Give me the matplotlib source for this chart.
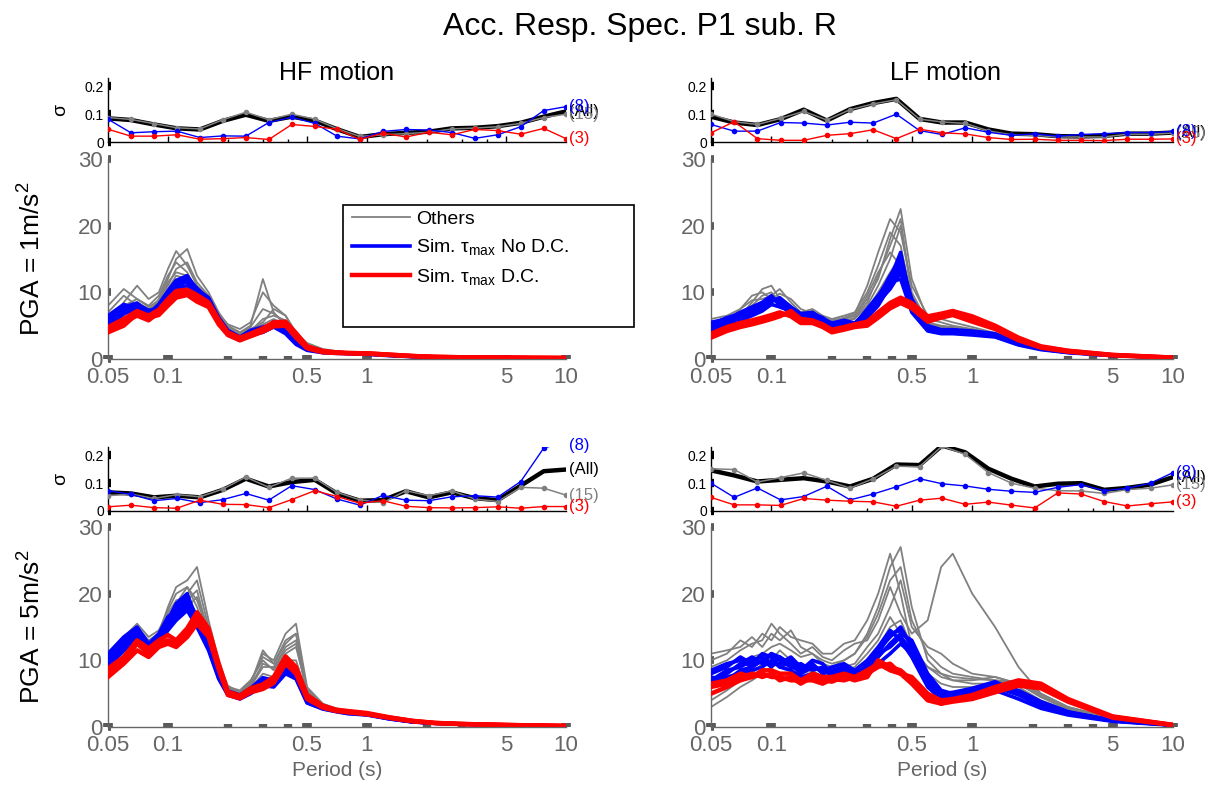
import matplotlib
matplotlib.use("Agg")
import matplotlib.pyplot as plt
from matplotlib.patches import Rectangle
from matplotlib.ticker import NullFormatter

plt.rcParams['font.family'] = ['Liberation Sans', 'DejaVu Sans']
plt.rcParams['mathtext.fontset'] = 'custom'
plt.rcParams['mathtext.rm'] = 'Liberation Sans'
plt.rcParams['mathtext.it'] = 'Liberation Sans:italic'
plt.rcParams['mathtext.sf'] = 'Liberation Sans'

# ---------------- data ----------------
periods = [0.05, 0.06, 0.07, 0.08, 0.09, 0.1, 0.11, 0.125, 0.14, 0.16, 0.18, 0.2, 0.23,
           0.26, 0.3, 0.34, 0.39, 0.44, 0.5, 0.6, 0.7, 0.8, 1.0, 1.3, 1.7, 2.2, 3, 5, 10]

sigma_periods = [0.05, 0.0652, 0.0851, 0.111, 0.1448, 0.1888, 0.2463, 0.3213, 0.419, 0.5466,
                 0.7071, 0.922, 1.203, 1.569, 2.047, 2.669, 3.482, 4.542, 5.924, 7.727, 10]

xtick_vals = [0.05, 0.1, 0.5, 1, 5, 10]
xtick_labels = ['0.05', '0.1', '0.5', '1', '5', '10']
xminor_vals = [0.2, 0.3, 0.4, 2, 3, 4]

# HF motion, PGA = 1 m/s2
hf1_gray = [
    [4.0, 8.5, 11.0, 9.0, 10.0, 13.5, 16.2, 14.0, 11.0, 9.5, 6.5, 4.8, 4.0, 5.0, 12.0, 7.0, 5.0, 3.0, 2.0, 1.3, 1.1, 1.0, 0.9, 0.7, 0.5, 0.35, 0.28, 0.22, 0.16],
    [5.5, 7.0, 8.5, 7.5, 8.5, 11.5, 13.0, 12.5, 10.5, 9.0, 6.0, 4.5, 3.5, 4.2, 6.0, 6.5, 5.8, 3.5, 2.0, 1.2, 1.0, 0.95, 0.85, 0.65, 0.45, 0.32, 0.26, 0.2, 0.15],
    [7.0, 9.5, 8.0, 7.0, 9.0, 12.0, 15.0, 16.5, 12.5, 10.0, 7.0, 5.0, 4.0, 4.5, 5.5, 7.5, 6.5, 3.8, 2.2, 1.3, 1.1, 1.0, 0.9, 0.7, 0.5, 0.35, 0.28, 0.22, 0.16],
    [3.8, 6.0, 7.0, 6.2, 7.5, 9.5, 11.0, 11.5, 9.5, 8.5, 5.5, 4.0, 3.2, 3.8, 4.5, 5.0, 4.5, 2.6, 1.5, 1.0, 0.9, 0.85, 0.75, 0.55, 0.4, 0.3, 0.24, 0.18, 0.14],
    [6.0, 8.0, 9.0, 8.0, 9.5, 12.5, 14.5, 13.0, 10.0, 9.0, 6.8, 5.2, 4.5, 5.5, 10.0, 8.0, 6.5, 4.0, 2.4, 1.5, 1.2, 1.05, 0.95, 0.75, 0.5, 0.35, 0.28, 0.22, 0.16],
    [4.5, 6.5, 7.8, 7.0, 8.0, 10.5, 12.5, 12.0, 9.8, 8.8, 6.2, 4.4, 3.6, 4.4, 5.2, 6.0, 5.2, 3.2, 1.8, 1.2, 1.0, 0.9, 0.8, 0.6, 0.42, 0.3, 0.24, 0.19, 0.14],
    [8.0, 10.5, 9.0, 7.8, 8.8, 11.0, 13.5, 14.5, 11.5, 9.5, 6.5, 4.6, 3.8, 4.8, 7.5, 6.8, 5.5, 3.2, 1.9, 1.25, 1.05, 0.95, 0.85, 0.65, 0.45, 0.32, 0.26, 0.2, 0.15],
]
hf1_blue = [
    [5.8, 7.6, 7.9, 6.8, 8.2, 10.2, 11.8, 12.5, 10.4, 9.2, 6.2, 4.3, 3.3, 4.3, 4.8, 5.3, 4.0, 2.4, 1.5, 1.1, 0.95, 0.9, 0.8, 0.6, 0.4, 0.3, 0.25, 0.2, 0.15],
    [5.0, 7.0, 8.2, 7.3, 7.6, 9.6, 11.0, 11.6, 9.8, 8.8, 5.8, 4.0, 3.0, 3.9, 4.4, 5.0, 4.4, 2.8, 1.6, 1.1, 1.0, 0.9, 0.8, 0.6, 0.4, 0.3, 0.25, 0.2, 0.15],
    [6.5, 8.2, 7.4, 6.4, 7.8, 9.8, 11.2, 12.0, 10.0, 8.6, 5.6, 3.8, 2.9, 3.8, 4.2, 5.6, 4.6, 2.6, 1.4, 1.0, 0.9, 0.85, 0.75, 0.55, 0.38, 0.28, 0.22, 0.18, 0.14],
    [5.3, 7.2, 7.0, 6.0, 7.2, 9.0, 10.6, 11.0, 9.4, 8.4, 5.4, 3.6, 2.8, 3.6, 4.0, 4.8, 3.8, 2.2, 1.3, 0.95, 0.85, 0.8, 0.7, 0.5, 0.35, 0.25, 0.2, 0.16, 0.12],
    [6.0, 7.8, 8.4, 7.0, 7.4, 9.4, 11.4, 11.8, 10.2, 9.0, 6.0, 4.1, 3.1, 4.0, 4.6, 5.4, 4.2, 2.5, 1.5, 1.05, 0.9, 0.85, 0.78, 0.58, 0.4, 0.3, 0.24, 0.19, 0.15],
    [4.8, 6.8, 7.6, 6.6, 8.0, 10.0, 11.6, 12.2, 10.6, 9.0, 6.0, 4.2, 3.2, 4.0, 4.6, 5.0, 4.2, 2.6, 1.5, 1.05, 0.92, 0.86, 0.78, 0.58, 0.4, 0.3, 0.24, 0.19, 0.14],
]
hf1_red = [
    [4.5, 5.5, 6.5, 5.8, 7.0, 8.6, 9.8, 10.0, 9.2, 8.2, 5.6, 3.8, 3.0, 3.6, 4.4, 5.2, 5.4, 3.6, 1.8, 1.1, 0.95, 0.9, 0.85, 0.65, 0.45, 0.32, 0.26, 0.2, 0.15],
    [4.0, 5.0, 6.8, 6.2, 6.6, 8.0, 9.2, 9.6, 8.6, 7.8, 5.2, 3.6, 2.8, 3.4, 4.1, 4.9, 5.0, 3.2, 1.6, 1.0, 0.9, 0.85, 0.8, 0.6, 0.42, 0.3, 0.24, 0.19, 0.14],
    [4.8, 6.0, 7.2, 6.5, 7.4, 9.0, 10.2, 10.4, 9.6, 8.5, 5.9, 4.0, 3.2, 3.8, 4.6, 5.5, 5.6, 3.9, 1.9, 1.2, 1.0, 0.9, 0.85, 0.65, 0.45, 0.32, 0.26, 0.2, 0.15],
]

# LF motion, PGA = 1 m/s2
lf1_gray = [
    [3.5, 5.0, 6.5, 8.5, 10.5, 11.0, 9.0, 8.0, 6.5, 7.0, 6.0, 5.5, 6.0, 6.5, 9.0, 12.0, 18.0, 22.5, 12.0, 6.0, 5.5, 5.0, 4.5, 3.8, 2.5, 1.6, 1.1, 0.6, 0.2],
    [5.0, 6.0, 7.0, 8.0, 9.5, 10.0, 8.5, 7.5, 7.0, 6.5, 5.8, 5.2, 5.8, 6.0, 8.0, 11.0, 15.0, 20.0, 10.0, 5.5, 5.0, 4.8, 4.4, 3.6, 2.4, 1.6, 1.05, 0.55, 0.2],
    [6.0, 6.5, 7.5, 8.8, 9.0, 9.5, 10.5, 8.5, 7.0, 7.5, 6.5, 6.0, 6.5, 7.0, 10.0, 14.0, 19.0, 17.0, 9.0, 5.0, 4.8, 4.6, 4.2, 3.5, 2.3, 1.5, 1.0, 0.55, 0.2],
    [3.0, 4.5, 5.5, 6.5, 7.5, 8.0, 8.0, 7.0, 6.0, 6.0, 5.2, 4.8, 5.2, 5.5, 7.5, 10.0, 13.0, 15.5, 8.0, 4.8, 4.4, 4.3, 4.0, 3.4, 2.2, 1.5, 1.0, 0.5, 0.18],
    [4.5, 5.5, 7.5, 9.5, 10.0, 9.0, 8.5, 7.8, 6.8, 7.2, 6.2, 5.8, 6.2, 6.8, 11.0, 16.0, 21.0, 19.0, 11.0, 6.5, 6.0, 5.5, 4.8, 3.9, 2.6, 1.7, 1.1, 0.6, 0.2],
    [4.0, 5.2, 6.2, 7.2, 8.2, 8.8, 9.2, 8.0, 6.6, 6.8, 5.6, 5.0, 5.6, 6.2, 8.5, 12.5, 17.0, 21.0, 9.5, 5.2, 4.6, 4.4, 4.2, 3.5, 2.3, 1.5, 1.0, 0.55, 0.2],
    [5.5, 6.2, 6.8, 7.6, 8.0, 9.0, 9.8, 9.0, 7.5, 6.8, 6.0, 5.4, 6.0, 6.5, 9.5, 13.0, 16.0, 14.0, 8.5, 5.2, 4.9, 4.7, 4.3, 3.6, 2.4, 1.6, 1.05, 0.55, 0.2],
]
lf1_blue = [
    [4.8, 5.5, 6.2, 7.0, 8.0, 9.0, 8.5, 7.5, 6.0, 6.8, 6.2, 5.2, 5.6, 5.2, 7.5, 9.5, 12.0, 16.0, 8.0, 4.8, 4.2, 4.2, 4.0, 3.6, 2.4, 1.6, 1.1, 0.6, 0.2],
    [5.5, 6.0, 7.0, 7.8, 8.5, 9.5, 8.0, 7.0, 6.5, 6.5, 5.8, 5.0, 5.4, 5.0, 6.8, 8.5, 10.5, 13.0, 7.5, 4.5, 4.0, 4.0, 3.8, 3.4, 2.2, 1.5, 1.0, 0.55, 0.2],
    [4.2, 5.0, 5.8, 6.5, 7.2, 8.2, 7.8, 7.2, 6.2, 6.0, 5.5, 4.6, 5.0, 4.8, 6.2, 8.0, 11.0, 14.5, 9.0, 5.0, 4.4, 4.4, 4.2, 3.8, 2.5, 1.7, 1.1, 0.6, 0.2],
    [5.0, 5.8, 6.6, 7.4, 7.8, 8.6, 9.2, 7.8, 6.8, 7.0, 6.0, 5.4, 5.8, 5.4, 7.0, 9.0, 11.5, 12.0, 7.0, 4.2, 3.8, 3.8, 3.6, 3.3, 2.1, 1.4, 0.95, 0.5, 0.18],
    [4.5, 5.3, 6.0, 6.8, 7.6, 8.8, 8.8, 7.4, 6.4, 6.6, 6.0, 5.0, 5.4, 5.2, 7.2, 9.2, 12.5, 15.0, 8.5, 4.8, 4.2, 4.2, 4.0, 3.6, 2.3, 1.55, 1.05, 0.58, 0.2],
    [5.2, 6.2, 6.8, 7.2, 8.2, 9.2, 8.6, 7.6, 6.6, 6.4, 5.6, 4.8, 5.2, 5.0, 6.6, 8.8, 11.0, 13.5, 8.2, 4.6, 4.1, 4.1, 3.9, 3.5, 2.3, 1.5, 1.0, 0.55, 0.2],
]
lf1_red = [
    [3.5, 4.5, 5.0, 5.5, 5.8, 6.2, 6.6, 6.8, 5.6, 5.6, 5.0, 4.2, 4.6, 5.0, 5.2, 6.6, 8.0, 8.8, 8.0, 6.0, 6.6, 7.0, 6.0, 4.8, 3.0, 1.8, 1.2, 0.6, 0.2],
    [3.8, 4.8, 5.4, 5.8, 6.2, 6.6, 7.0, 6.4, 5.4, 5.4, 4.8, 4.0, 4.4, 4.8, 5.0, 6.2, 7.6, 8.4, 7.6, 5.6, 6.2, 6.6, 5.6, 4.5, 2.8, 1.7, 1.1, 0.55, 0.2],
    [3.2, 4.2, 4.8, 5.2, 5.6, 6.0, 6.4, 7.2, 6.0, 5.8, 5.2, 4.4, 4.8, 5.2, 5.6, 7.0, 8.4, 9.2, 8.4, 6.4, 6.8, 7.2, 6.4, 5.0, 3.2, 1.9, 1.25, 0.62, 0.22],
]

# HF motion, PGA = 5 m/s2
hf5_gray = [
    [9.0, 12.0, 15.0, 13.0, 14.0, 18.0, 21.0, 22.0, 24.0, 16.0, 10.0, 6.0, 5.0, 6.5, 11.0, 10.0, 14.0, 15.5, 6.0, 3.5, 2.8, 2.4, 2.2, 1.5, 1.0, 0.7, 0.5, 0.32, 0.16],
    [8.0, 11.0, 13.0, 11.5, 13.5, 16.5, 18.5, 21.0, 18.0, 13.5, 8.5, 5.5, 5.0, 6.0, 9.0, 9.0, 12.0, 13.0, 5.0, 3.2, 2.6, 2.3, 2.1, 1.4, 0.9, 0.65, 0.48, 0.3, 0.15],
    [10.0, 13.0, 14.0, 12.0, 12.5, 15.0, 16.5, 18.0, 19.5, 14.5, 9.0, 6.0, 5.5, 7.0, 10.0, 8.5, 11.0, 12.0, 5.5, 3.4, 2.7, 2.4, 2.1, 1.45, 0.95, 0.66, 0.48, 0.31, 0.15],
    [9.5, 12.5, 14.5, 12.5, 13.5, 17.0, 19.0, 19.5, 17.0, 12.5, 8.0, 5.2, 4.6, 5.8, 8.0, 7.5, 10.0, 10.0, 4.8, 3.1, 2.5, 2.2, 2.0, 1.35, 0.85, 0.6, 0.45, 0.3, 0.15],
    [8.5, 11.5, 13.5, 12.0, 13.0, 15.5, 17.5, 20.0, 22.0, 15.0, 9.5, 6.2, 5.2, 6.4, 11.5, 9.5, 12.5, 14.0, 5.5, 3.3, 2.7, 2.3, 2.1, 1.45, 0.95, 0.68, 0.5, 0.32, 0.16],
    [9.0, 12.0, 13.8, 12.2, 13.2, 16.0, 18.0, 19.0, 20.5, 14.0, 8.8, 5.6, 5.0, 6.2, 9.5, 8.8, 11.5, 12.5, 5.2, 3.3, 2.6, 2.3, 2.1, 1.4, 0.9, 0.65, 0.48, 0.31, 0.15],
    [10.5, 13.5, 15.5, 13.5, 14.5, 17.5, 20.0, 21.0, 19.0, 14.0, 9.0, 5.8, 5.2, 6.8, 10.5, 9.5, 13.0, 14.0, 5.8, 3.4, 2.7, 2.4, 2.15, 1.45, 0.95, 0.68, 0.5, 0.32, 0.16],
]
hf5_blue = [
    [10.5, 13.0, 14.5, 12.0, 13.5, 16.0, 18.5, 20.0, 16.0, 12.5, 8.0, 5.2, 4.6, 5.6, 7.0, 6.6, 9.0, 8.0, 4.0, 3.0, 2.5, 2.2, 2.0, 1.3, 0.8, 0.6, 0.45, 0.3, 0.15],
    [9.5, 12.0, 13.5, 11.5, 13.0, 15.0, 17.0, 18.5, 15.5, 12.0, 7.6, 5.0, 4.4, 5.2, 6.6, 6.2, 8.5, 7.6, 3.8, 2.8, 2.4, 2.1, 1.9, 1.25, 0.78, 0.58, 0.43, 0.28, 0.14],
    [11.0, 13.5, 15.0, 12.5, 14.0, 16.5, 17.5, 19.0, 16.5, 13.0, 8.4, 5.4, 4.8, 5.8, 7.4, 7.0, 9.5, 8.5, 4.2, 3.1, 2.6, 2.3, 2.05, 1.35, 0.82, 0.62, 0.46, 0.3, 0.15],
    [9.0, 11.5, 12.5, 11.0, 12.5, 14.5, 16.0, 17.5, 15.0, 11.5, 7.2, 4.8, 4.2, 5.0, 6.2, 6.0, 8.0, 7.2, 3.6, 2.7, 2.3, 2.0, 1.8, 1.2, 0.75, 0.55, 0.42, 0.28, 0.14],
    [10.0, 12.5, 14.0, 12.2, 13.8, 15.5, 18.0, 19.5, 16.2, 12.8, 7.8, 5.1, 4.5, 5.4, 6.8, 6.4, 8.8, 7.8, 3.9, 2.9, 2.45, 2.15, 1.95, 1.28, 0.8, 0.6, 0.44, 0.29, 0.15],
    [9.2, 11.8, 13.0, 11.2, 12.8, 15.2, 16.5, 18.0, 15.2, 11.8, 7.4, 4.9, 4.3, 5.1, 6.4, 6.1, 8.2, 7.4, 3.7, 2.75, 2.35, 2.05, 1.85, 1.22, 0.76, 0.56, 0.42, 0.28, 0.14],
]
hf5_red = [
    [8.0, 10.0, 12.5, 11.0, 12.5, 13.0, 12.5, 14.0, 16.5, 14.0, 9.0, 5.0, 4.5, 5.5, 6.0, 7.0, 10.0, 8.5, 4.5, 3.0, 2.5, 2.3, 2.0, 1.4, 0.9, 0.6, 0.45, 0.3, 0.15],
    [7.5, 9.5, 11.5, 10.5, 12.0, 12.5, 12.0, 13.5, 15.5, 13.5, 8.6, 4.8, 4.3, 5.2, 5.7, 6.6, 9.5, 8.0, 4.2, 2.9, 2.4, 2.2, 1.9, 1.35, 0.85, 0.58, 0.44, 0.29, 0.15],
    [8.8, 10.5, 13.0, 11.8, 13.0, 13.8, 13.0, 14.8, 17.2, 14.8, 9.5, 5.3, 4.7, 5.8, 6.4, 7.5, 10.6, 9.0, 4.8, 3.2, 2.6, 2.4, 2.1, 1.45, 0.92, 0.62, 0.46, 0.31, 0.16],
]

# LF motion, PGA = 5 m/s2
lf5_gray = [
    [11.0, 11.5, 12.0, 13.5, 12.0, 14.0, 13.0, 14.5, 12.0, 11.0, 10.0, 9.5, 10.0, 11.0, 14.0, 18.0, 24.0, 27.0, 18.0, 10.0, 8.0, 7.0, 6.5, 6.5, 6.0, 4.0, 2.5, 1.2, 0.3],
    [9.0, 10.0, 11.5, 12.5, 13.0, 15.5, 14.0, 12.5, 11.0, 12.0, 10.5, 10.0, 11.5, 12.5, 13.0, 16.0, 21.0, 17.0, 14.0, 16.0, 24.0, 26.0, 20.0, 15.0, 9.0, 5.0, 3.0, 1.3, 0.3],
    [5.0, 6.0, 7.5, 8.5, 9.0, 10.0, 11.5, 10.0, 9.0, 9.5, 8.5, 8.0, 9.0, 9.5, 12.0, 14.0, 18.0, 22.0, 15.0, 12.0, 11.0, 9.5, 8.0, 7.5, 6.5, 4.5, 2.8, 1.2, 0.3],
    [3.0, 4.5, 6.0, 7.0, 8.0, 9.0, 9.5, 8.5, 8.0, 8.5, 7.5, 7.0, 8.0, 8.5, 10.0, 12.0, 15.0, 16.0, 12.0, 8.0, 6.5, 6.0, 6.0, 6.5, 7.0, 5.0, 3.0, 1.3, 0.3],
    [10.0, 11.0, 13.0, 12.0, 14.0, 13.0, 15.0, 13.5, 13.0, 12.5, 11.0, 11.0, 12.5, 13.0, 16.0, 20.0, 26.0, 20.0, 12.0, 9.0, 7.5, 7.0, 7.0, 7.5, 6.5, 4.5, 2.6, 1.2, 0.3],
    [7.0, 8.0, 9.5, 10.5, 11.0, 12.0, 12.5, 11.5, 10.5, 11.0, 9.5, 9.0, 10.0, 11.0, 13.5, 17.0, 22.0, 24.0, 16.0, 11.0, 9.0, 8.0, 7.5, 7.0, 6.5, 4.5, 2.7, 1.2, 0.3],
    [4.0, 5.5, 7.0, 8.0, 9.5, 10.5, 10.0, 9.5, 8.5, 9.0, 8.0, 7.5, 8.5, 9.0, 11.0, 13.0, 16.5, 14.0, 11.0, 9.0, 8.0, 7.5, 7.2, 7.0, 6.8, 4.8, 2.9, 1.25, 0.3],
]
lf5_blue = [
    [8.0, 9.0, 10.5, 9.5, 11.0, 10.5, 9.0, 10.0, 8.5, 9.5, 8.0, 8.5, 9.0, 7.5, 9.5, 11.5, 13.5, 15.0, 12.0, 7.0, 5.0, 5.2, 5.8, 6.8, 5.2, 3.6, 2.2, 1.0, 0.3],
    [6.5, 8.0, 9.5, 10.5, 9.5, 11.0, 10.0, 9.0, 9.5, 8.5, 9.0, 7.5, 8.5, 8.0, 8.5, 10.5, 12.5, 14.0, 13.0, 8.0, 5.5, 5.0, 5.2, 6.0, 4.8, 3.2, 2.0, 0.9, 0.3],
    [7.5, 7.0, 8.5, 9.0, 10.0, 9.0, 10.5, 9.5, 8.0, 9.0, 8.5, 9.0, 9.5, 8.5, 10.0, 12.0, 14.5, 13.0, 10.5, 6.0, 4.2, 4.5, 5.0, 6.2, 5.5, 3.8, 2.3, 1.0, 0.3],
    [6.0, 7.5, 8.0, 8.5, 9.0, 10.0, 9.0, 8.5, 7.5, 8.0, 7.5, 7.0, 8.0, 7.0, 8.0, 9.5, 11.0, 12.5, 11.0, 6.5, 4.8, 4.5, 4.8, 5.5, 4.2, 2.8, 1.8, 0.85, 0.25],
    [7.0, 8.5, 9.0, 10.0, 10.5, 9.5, 9.5, 10.5, 9.0, 9.0, 8.5, 8.0, 8.8, 8.2, 9.0, 11.0, 14.0, 14.5, 12.5, 7.5, 5.2, 4.8, 5.5, 6.5, 5.0, 3.4, 2.1, 0.95, 0.3],
    [8.5, 9.5, 10.0, 9.0, 10.0, 11.0, 10.5, 9.0, 8.5, 10.0, 9.5, 8.0, 9.0, 8.0, 9.0, 11.0, 12.0, 13.5, 11.5, 6.8, 4.6, 4.8, 5.4, 6.4, 5.4, 3.7, 2.2, 1.0, 0.3],
]
lf5_red = [
    [6.0, 6.5, 7.5, 8.0, 7.5, 8.0, 7.0, 7.5, 6.5, 7.5, 7.0, 6.8, 7.5, 7.0, 7.5, 10.0, 9.0, 8.5, 7.0, 4.5, 3.5, 4.0, 4.5, 5.5, 6.5, 6.0, 4.0, 1.5, 0.3],
    [5.0, 6.0, 7.0, 7.5, 8.0, 7.5, 7.5, 7.0, 7.0, 7.0, 6.5, 7.2, 7.0, 7.5, 8.0, 9.0, 9.5, 8.0, 6.5, 4.0, 3.5, 3.8, 4.2, 5.2, 6.2, 5.8, 3.8, 1.4, 0.3],
    [6.5, 7.0, 8.0, 7.5, 8.5, 8.5, 8.0, 8.0, 7.0, 8.0, 7.5, 7.5, 8.0, 7.5, 8.5, 9.5, 8.5, 8.0, 7.5, 5.0, 4.0, 4.2, 4.8, 6.0, 7.0, 6.5, 4.2, 1.6, 0.32],
]

# sigma curves: (All), (15), (8), (3)
hf1_sig_all = [0.085, 0.079, 0.063, 0.049, 0.045, 0.076, 0.098, 0.076, 0.091, 0.077, 0.046, 0.018, 0.028, 0.033, 0.037, 0.049, 0.051, 0.057, 0.069, 0.091, 0.11]
hf1_sig_15 = [0.088, 0.081, 0.066, 0.051, 0.047, 0.08, 0.107, 0.08, 0.1, 0.082, 0.048, 0.02, 0.026, 0.03, 0.035, 0.047, 0.05, 0.055, 0.067, 0.088, 0.1]
hf1_sig_8 = [0.082, 0.033, 0.037, 0.039, 0.016, 0.022, 0.021, 0.07, 0.089, 0.067, 0.021, 0.011, 0.038, 0.045, 0.043, 0.034, 0.013, 0.026, 0.055, 0.113, 0.127]
hf1_sig_3 = [0.046, 0.021, 0.021, 0.026, 0.01, 0.012, 0.016, 0.009, 0.063, 0.056, 0.046, 0.009, 0.032, 0.018, 0.035, 0.026, 0.045, 0.041, 0.028, 0.049, 0.012]

lf1_sig_all = [0.091, 0.07, 0.061, 0.082, 0.116, 0.077, 0.118, 0.14, 0.155, 0.083, 0.07, 0.07, 0.045, 0.03, 0.028, 0.021, 0.02, 0.022, 0.03, 0.03, 0.034]
lf1_sig_15 = [0.1, 0.073, 0.063, 0.085, 0.11, 0.079, 0.116, 0.137, 0.152, 0.082, 0.072, 0.067, 0.04, 0.026, 0.024, 0.018, 0.018, 0.018, 0.028, 0.028, 0.032]
lf1_sig_8 = [0.063, 0.039, 0.039, 0.07, 0.068, 0.061, 0.071, 0.068, 0.1, 0.041, 0.027, 0.051, 0.035, 0.024, 0.029, 0.021, 0.027, 0.03, 0.034, 0.034, 0.038]
lf1_sig_3 = [0.033, 0.073, 0.012, 0.006, 0.006, 0.024, 0.03, 0.044, 0.012, 0.046, 0.033, 0.029, 0.016, 0.009, 0.01, 0.006, 0.006, 0.005, 0.01, 0.01, 0.011]

hf5_sig_all = [0.067, 0.063, 0.049, 0.055, 0.049, 0.076, 0.116, 0.088, 0.104, 0.112, 0.063, 0.037, 0.039, 0.071, 0.049, 0.067, 0.046, 0.039, 0.091, 0.143, 0.149]
hf5_sig_15 = [0.055, 0.061, 0.045, 0.059, 0.051, 0.079, 0.122, 0.085, 0.118, 0.118, 0.067, 0.04, 0.03, 0.073, 0.055, 0.072, 0.043, 0.034, 0.085, 0.082, 0.057]
hf5_sig_8 = [0.073, 0.06, 0.037, 0.045, 0.03, 0.041, 0.063, 0.039, 0.091, 0.077, 0.043, 0.021, 0.056, 0.039, 0.037, 0.051, 0.055, 0.05, 0.106, 0.226, 0.25]
hf5_sig_3 = [0.015, 0.021, 0.012, 0.01, 0.039, 0.024, 0.023, 0.012, 0.041, 0.073, 0.052, 0.028, 0.037, 0.017, 0.012, 0.011, 0.012, 0.015, 0.01, 0.016, 0.016]

lf5_sig_all = [0.146, 0.128, 0.106, 0.112, 0.118, 0.106, 0.088, 0.116, 0.167, 0.165, 0.235, 0.211, 0.152, 0.116, 0.088, 0.098, 0.1, 0.076, 0.083, 0.095, 0.122]
lf5_sig_15 = [0.152, 0.149, 0.104, 0.12, 0.137, 0.11, 0.082, 0.116, 0.161, 0.159, 0.233, 0.204, 0.138, 0.1, 0.082, 0.073, 0.072, 0.063, 0.077, 0.082, 0.094]
lf5_sig_8 = [0.1, 0.049, 0.083, 0.04, 0.052, 0.089, 0.04, 0.061, 0.087, 0.116, 0.098, 0.09, 0.078, 0.071, 0.067, 0.085, 0.095, 0.073, 0.082, 0.1, 0.138]
lf5_sig_3 = [0.049, 0.022, 0.022, 0.02, 0.045, 0.039, 0.035, 0.033, 0.017, 0.039, 0.046, 0.024, 0.032, 0.021, 0.011, 0.065, 0.061, 0.034, 0.018, 0.026, 0.033]

sigma_names = ['(All)', '(15)', '(8)', '(3)']
column_titles = ['HF motion', 'LF motion']
row_labels = [r'PGA = 1m/s$^{2}$', r'PGA = 5m/s$^{2}$']
legend_labels = ['Others', r'Sim. $\mathrm{\tau_{max}}$ No D.C.', r'Sim. $\mathrm{\tau_{max}}$ D.C.']

# ---------------- layout ----------------
W, H = 1212, 787
fig = plt.figure(figsize=(W / 100, H / 100), dpi=100)
fig.patch.set_facecolor('white')


def rect(x0, y0, x1, y1):
    return [x0 / W, 1 - y1 / H, (x1 - x0) / W, (y1 - y0) / H]


GRAYC = '#808080'
TXTG = '#666666'
SIG_TOP = 0.23

col_x = [(108, 566), (711, 1173)]
row_y = [((78, 142), (159, 359)), ((447, 511), (527, 727))]

panels = [
    [(hf1_gray, hf1_blue, hf1_red, [hf1_sig_all, hf1_sig_15, hf1_sig_8, hf1_sig_3]),
     (lf1_gray, lf1_blue, lf1_red, [lf1_sig_all, lf1_sig_15, lf1_sig_8, lf1_sig_3])],
    [(hf5_gray, hf5_blue, hf5_red, [hf5_sig_all, hf5_sig_15, hf5_sig_8, hf5_sig_3]),
     (lf5_gray, lf5_blue, lf5_red, [lf5_sig_all, lf5_sig_15, lf5_sig_8, lf5_sig_3])],
]

legend_handles = None

for r in range(2):
    for c in range(2):
        gray_c, blue_c, red_c, sig = panels[r][c]
        (sy0, sy1), (py0, py1) = row_y[r]
        x0, x1 = col_x[c]

        # ---- sigma axes ----
        axs = fig.add_axes(rect(x0, sy0, x1, sy1))
        axs.set_xscale('log')
        axs.set_xlim(0.05, 10)
        axs.set_ylim(0, SIG_TOP)
        for s in ['top', 'right']:
            axs.spines[s].set_visible(False)
        for s in ['left', 'bottom']:
            axs.spines[s].set_color('black')
            axs.spines[s].set_linewidth(1.0)
        axs.plot(sigma_periods, sig[0], color='black', lw=3.2, zorder=3)
        axs.plot(sigma_periods, sig[1], color=GRAYC, lw=1.1, marker='o', ms=3, zorder=4)
        axs.plot(sigma_periods, sig[2], color='#0000ff', lw=1.0, marker='o', ms=3, zorder=5)
        axs.plot(sigma_periods, sig[3], color='#ff0000', lw=1.0, marker='o', ms=3, zorder=6)
        axs.set_xticks([0.1, 0.5, 1, 5])
        axs.set_xticks(xminor_vals, minor=True)
        axs.xaxis.set_major_formatter(NullFormatter())
        axs.xaxis.set_minor_formatter(NullFormatter())
        axs.tick_params(axis='x', which='major', direction='in', length=4, width=1, color='black')
        axs.tick_params(axis='x', which='minor', direction='in', length=2.5, width=1, color='black')
        axs.set_yticks([0, 0.1, 0.2])
        axs.set_yticklabels(['0', '0.1', '0.2'])
        axs.tick_params(axis='y', direction='in', length=2.2, width=6, color='black',
                        labelsize=10, labelcolor='black', pad=3)
        label_cols = ['black', GRAYC, '#0000ff', '#ff0000']
        for name, vals, col in zip(sigma_names, sig, label_cols):
            yv = min(vals[-1], 0.235)
            axs.annotate(name, xy=(10, yv), xytext=(2, 0), textcoords='offset points',
                         ha='left', va='center', fontsize=12, color=col,
                         annotation_clip=False, zorder=7)
        if c == 0:
            axs.set_ylabel('σ', fontsize=14, labelpad=11)

        # ---- spectral axes ----
        ax = fig.add_axes(rect(x0, py0, x1, py1))
        ax.set_xscale('log')
        for vals in gray_c:
            lg, = ax.plot(periods, vals, color=GRAYC, lw=1.3, zorder=2)
        for vals in blue_c:
            lb, = ax.plot(periods, vals, color='#0000ff', lw=2.6, zorder=3)
        for vals in red_c:
            lr, = ax.plot(periods, vals, color='#ff0000', lw=3.2, zorder=4)
        if legend_handles is None:
            legend_handles = [lg, lb, lr]
        ax.set_xlim(0.05, 10)
        ax.set_ylim(0, 30)
        for s in ['top', 'right']:
            ax.spines[s].set_visible(False)
        for s in ['left', 'bottom']:
            ax.spines[s].set_color(TXTG)
            ax.spines[s].set_linewidth(1.0)
        ax.set_xticks(xtick_vals)
        ax.set_xticklabels(xtick_labels)
        ax.set_xticks(xminor_vals, minor=True)
        ax.xaxis.set_minor_formatter(NullFormatter())
        ax.tick_params(axis='x', which='major', direction='in', length=3, width=7,
                       color='#5a5a5a', labelsize=16, labelcolor=TXTG, pad=6)
        ax.tick_params(axis='x', which='minor', direction='in', length=2, width=6,
                       color='#5a5a5a')
        ax.set_yticks([0, 10, 20, 30])
        ax.set_yticklabels(['0', '10', '20', '30'])
        ax.tick_params(axis='y', direction='in', length=2.5, width=5.5,
                       color='#5a5a5a', labelsize=16, labelcolor=TXTG, pad=4)
        if r == 1:
            ax.set_xlabel('Period (s)', fontsize=15, color=TXTG, labelpad=3)

# column titles
fig.text(337 / W, 1 - 73 / H, column_titles[0], fontsize=18, ha='center', va='center')
fig.text(945 / W, 1 - 73 / H, column_titles[1], fontsize=18, ha='center', va='center')
# main title
fig.text(640 / W, 1 - 27 / H, 'Acc. Resp. Spec. P1 sub. R', fontsize=23, ha='center', va='center')
# row labels
fig.text(32 / W, 1 - 259 / H, row_labels[0], fontsize=19, rotation=90, ha='center', va='center')
fig.text(32 / W, 1 - 627 / H, row_labels[1], fontsize=19, rotation=90, ha='center', va='center')

# legend box + legend
box = Rectangle((343 / W, 1 - 327 / H), 291 / W, 122 / H, transform=fig.transFigure,
                facecolor='white', edgecolor='black', lw=1.2, zorder=4)
fig.patches.append(box)
leg = fig.legend(legend_handles, legend_labels, loc='upper left',
                 bbox_to_anchor=(352 / W, 1 - 210 / H), frameon=False, fontsize=14,
                 handlelength=3.0, handletextpad=0.3, labelspacing=0.5, borderpad=0,
                 borderaxespad=0)
leg.set_zorder(5)

fig.savefig('out.png', dpi=100, facecolor='white')
